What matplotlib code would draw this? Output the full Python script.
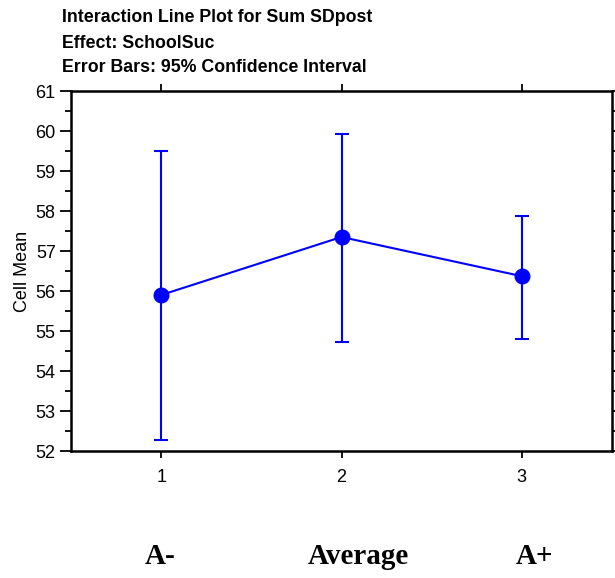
import numpy as np
import matplotlib.pyplot as plt
from matplotlib.ticker import MultipleLocator

# Cell means with 95% CI bounds
levels = [1, 2, 3]
categories = ["A-", "Average", "A+"]
means = [55.9, 57.35, 56.37]
ci_low = [52.28, 54.72, 54.8]
ci_high = [59.5, 59.93, 57.87]

BLUE = "#0000ff"


def main():
    fig = plt.figure(figsize=(6.15, 5.78), dpi=100)
    ax = fig.add_axes([71 / 615, 1 - 451 / 578, (612 - 71) / 615, (451 - 91) / 578])

    m = np.array(means)
    yerr = np.vstack([m - np.array(ci_low), np.array(ci_high) - m])
    ax.errorbar(levels, means, yerr=yerr, color=BLUE, lw=1.5, elinewidth=1.5,
                capsize=5, capthick=1.5, marker="o", markersize=10.5,
                markeredgecolor=BLUE, markerfacecolor=BLUE, zorder=3)

    ax.set_xlim(0.5, 3.5)
    ax.set_ylim(52, 61)
    ax.set_xticks(levels)
    ax.yaxis.set_major_locator(MultipleLocator(1))
    ax.yaxis.set_minor_locator(MultipleLocator(0.5))

    ax.tick_params(axis="both", which="major", direction="out", width=1.3,
                   labelsize=13, top=True, right=True, labeltop=False, labelright=False)
    ax.tick_params(axis="x", which="major", length=5, pad=8)
    ax.tick_params(axis="y", which="major", length=8, pad=3)
    ax.tick_params(axis="y", which="minor", direction="out", length=4, width=1.3,
                   left=True, right=True)
    for lab in ax.get_xticklabels() + ax.get_yticklabels():
        lab.set_family("Liberation Sans")
    for s in ax.spines.values():
        s.set_linewidth(1.8)

    ax.set_ylabel("Cell Mean", fontsize=13, family="Liberation Sans", labelpad=3)

    title = ["Interaction Line Plot for Sum SDpost",
             "Effect: SchoolSuc",
             "Error Bars: 95% Confidence Interval"]
    for i, line in enumerate(title):
        fig.text(62 / 615, 1 - (18 + 25 * i) / 578, line, fontsize=12.8,
                 fontweight="bold", family="Liberation Sans", va="center", ha="left")

    # category names under the numeric levels
    for x, name in zip([160, 358, 534], categories):
        fig.text(x / 615, 1 - 556 / 578, name, fontsize=21, fontweight="bold",
                 family="Liberation Serif", ha="center", va="center")

    fig.savefig("out.png", dpi=100)
    plt.close(fig)


if __name__ == "__main__":
    main()
